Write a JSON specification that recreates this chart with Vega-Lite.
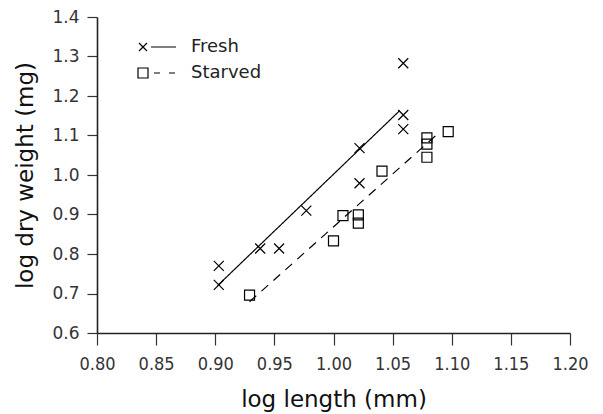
{
  "$schema": "https://vega.github.io/schema/vega-lite/v6.json",
  "width": 473,
  "height": 316,
  "autosize": {"type": "none"},
  "padding": {"left": 97, "top": 17, "right": 33, "bottom": 81},
  "background": "white",
  "config": {
    "view": {"stroke": null},
    "font": "DejaVu Sans",
    "axis": {
      "grid": false,
      "domainColor": "#222",
      "domainWidth": 1.6,
      "tickColor": "#333",
      "tickWidth": 1.2,
      "labelColor": "#333",
      "titleColor": "#111",
      "titleFontWeight": "normal",
      "titleFont": "DejaVu Sans",
      "titleFontSize": 23
    }
  },
  "datasets": {
    "pts": [
      {"group": "Fresh", "x": 0.903, "y": 0.770},
      {"group": "Fresh", "x": 0.903, "y": 0.722},
      {"group": "Fresh", "x": 0.938, "y": 0.814},
      {"group": "Fresh", "x": 0.954, "y": 0.814},
      {"group": "Fresh", "x": 0.977, "y": 0.910},
      {"group": "Fresh", "x": 1.022, "y": 1.068},
      {"group": "Fresh", "x": 1.022, "y": 0.979},
      {"group": "Fresh", "x": 1.059, "y": 1.283},
      {"group": "Fresh", "x": 1.059, "y": 1.152},
      {"group": "Fresh", "x": 1.059, "y": 1.116},
      {"group": "Starved", "x": 0.929, "y": 0.696},
      {"group": "Starved", "x": 1.000, "y": 0.833},
      {"group": "Starved", "x": 1.008, "y": 0.897},
      {"group": "Starved", "x": 1.021, "y": 0.899},
      {"group": "Starved", "x": 1.021, "y": 0.878},
      {"group": "Starved", "x": 1.041, "y": 1.010},
      {"group": "Starved", "x": 1.079, "y": 1.094},
      {"group": "Starved", "x": 1.079, "y": 1.078},
      {"group": "Starved", "x": 1.079, "y": 1.045},
      {"group": "Starved", "x": 1.097, "y": 1.110}
    ],
    "fits": [
      {"series": "Fresh fit", "x": 0.902, "y": 0.720},
      {"series": "Fresh fit", "x": 1.056, "y": 1.163},
      {"series": "Starved fit", "x": 0.929, "y": 0.679},
      {"series": "Starved fit", "x": 1.088, "y": 1.104}
    ]
  },
  "encoding": {
    "x": {
      "field": "x", "type": "quantitative",
      "scale": {"domain": [0.8, 1.2], "nice": false, "zero": false},
      "axis": {
        "title": "log length (mm)",
        "values": [0.8, 0.85, 0.9, 0.95, 1.0, 1.05, 1.1, 1.15, 1.2],
        "format": ".2f",
        "tickSize": 12,
        "labelPadding": 10,
        "labelFont": "DejaVu Sans Condensed, Liberation Sans",
        "labelFontSize": 18,
        "labelFlush": false,
        "labelOverlap": false,
        "titlePadding": 15
      }
    },
    "y": {
      "field": "y", "type": "quantitative",
      "scale": {"domain": [0.6, 1.4], "nice": false, "zero": false},
      "axis": {
        "title": "log dry weight (mg)",
        "values": [0.6, 0.7, 0.8, 0.9, 1.0, 1.1, 1.2, 1.3, 1.4],
        "tickCount": 9,
        "format": ".1f",
        "tickSize": 10,
        "labelPadding": 8,
        "labelFontSize": 17,
        "labelFlush": false,
        "labelOverlap": false,
        "titlePadding": 14
      }
    }
  },
  "layer": [
    {
      "data": {"name": "fits"},
      "mark": {"type": "line", "color": "black", "strokeWidth": 1.2},
      "encoding": {
        "strokeDash": {
          "field": "series", "type": "nominal",
          "scale": {"domain": ["Fresh fit", "Starved fit"], "range": [[1, 0], [9, 7]]},
          "legend": null
        }
      }
    },
    {
      "data": {"name": "pts"},
      "mark": {"type": "point", "filled": false, "stroke": "black", "strokeWidth": 1.2, "size": 100},
      "encoding": {
        "shape": {
          "field": "group", "type": "nominal",
          "scale": {"domain": ["Fresh", "Starved"], "range": ["M-1,-1L1,1M-1,1L1,-1", "square"]},
          "legend": null
        },
        "opacity": {
          "field": "group", "type": "ordinal",
          "scale": {"range": [1, 1]},
          "legend": {
            "title": null,
            "orient": "none",
            "legendX": 49,
            "legendY": 19,
            "padding": 0,
            "symbolSize": 400,
            "symbolType": {"expr": "datum.value === 'Fresh' ? 'M-1.8,-0.4L-1,0.4M-1.8,0.4L-1,-0.4M-0.6,0L1.9,0' : 'M-1.9,-0.5H-0.9V0.5H-1.9ZM-0.3,0H0.3M1.2,0H1.8'"},
            "symbolStrokeWidth": 1.2,
            "symbolStrokeColor": "black",
            "symbolFillColor": "transparent",
            "labelFont": "DejaVu Sans",
            "labelFontSize": 18,
            "labelColor": "#222",
            "labelOffset": 23,
            "rowPadding": 6
          }
        }
      }
    }
  ]
}
